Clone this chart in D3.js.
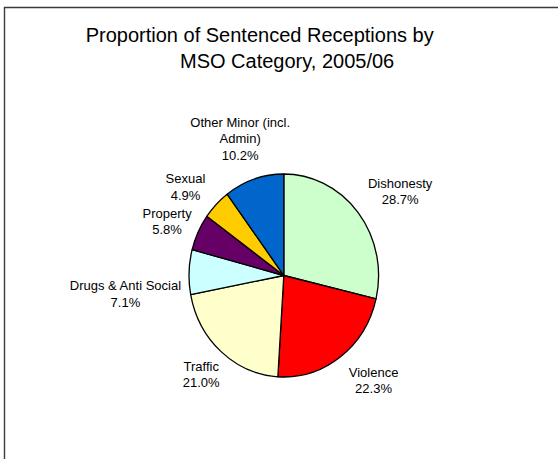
<!DOCTYPE html>
<html>
<head>
<meta charset="utf-8">
<script src="https://cdn.jsdelivr.net/npm/d3@7"></script>
<style>
  html, body { margin: 0; padding: 0; background: #fff; }
  svg { display: block; }
  text { font-family: "Liberation Sans", Arial, sans-serif; fill: #000; }
</style>
</head>
<body>
<svg id="chart" width="558" height="459"></svg>
<script>
// ---- data ----
const categories = ["Dishonesty", "Violence", "Traffic", "Drugs & Anti Social", "Property", "Sexual", "Other Minor (incl. Admin)"];
const values = [28.7, 22.3, 21.0, 7.1, 5.8, 4.9, 10.2];
const labelLines = [["Dishonesty"], ["Violence"], ["Traffic"], ["Drugs & Anti Social"], ["Property"], ["Sexual"], ["Other Minor (incl.", "Admin)"]];
const colors = ["#CCFFCC", "#FF0000", "#FFFFCC", "#CCFFFF", "#660066", "#FFCC00", "#0066CC"];
const titleLines = ["Proportion of Sentenced Receptions by", "MSO Category, 2005/06"];

// ---- layout ----
const W = 558, H = 459;
const cx = 283.8, cy = 275.5, ry = 101.5, rx = 94.8;
const labelGap = 16, lineH = 16.5, labelFont = 13;
// small manual nudges emulating the original label collision layout
const labelNudge = [[4, 0], [9, -2], [3, -1], [8, 24], [6, 4], [-5, 6], [7, -1]];

const svg = d3.select("#chart");

// frame
svg.append("path")
  .attr("d", `M4.5,${H} V7.5 H${W}`)
  .attr("fill", "none")
  .attr("stroke", "#3a3a3a")
  .attr("stroke-width", 1.4);

// title
const title = svg.append("text").style("font-size", "20px");
title.append("tspan").attr("x", 85.7).attr("y", 42).text(titleLines[0]);
title.append("tspan").attr("x", 180).attr("y", 68).text(titleLines[1]);

// pie
const data = categories.map((c, i) => ({ cat: c, value: values[i], color: colors[i], lines: labelLines[i], i }));
const pie = d3.pie().sort(null).value(d => d.value).startAngle(0).endAngle(2 * Math.PI);
const arcs = pie(data);
const arc = d3.arc().innerRadius(0).outerRadius(ry);

const pg = svg.append("g").attr("transform", `translate(${cx},${cy}) scale(${rx / ry},1)`);
pg.selectAll("path.slice")
  .data(arcs)
  .enter().append("path")
  .attr("class", "slice")
  .attr("d", arc)
  .attr("fill", d => d.data.color)
  .attr("stroke", "#000")
  .attr("stroke-width", 1.3)
  .attr("vector-effect", "non-scaling-stroke")
  .attr("stroke-linejoin", "round");

// labels
const lg = svg.append("g");
arcs.forEach(a => {
  const mid = (a.startAngle + a.endAngle) / 2;
  const s = Math.sin(mid), c = Math.cos(mid);
  const lines = a.data.lines.concat([a.data.value.toFixed(1) + "%"]);
  const t = lg.append("text").attr("text-anchor", "middle").style("font-size", labelFont + "px");
  lines.forEach((ln, k) => t.append("tspan").attr("x", 0).attr("y", k * lineH).text(ln));
  // measure block
  const bb = t.node().getBBox();
  const hw = bb.width / 2, hh = (lines.length * lineH) / 2;
  const px = cx + (rx + labelGap) * s, py = cy - (ry + labelGap) * c;
  const n = labelNudge[a.data.i];
  const bx = px + s * hw + n[0];
  const by = py - c * hh + n[1];
  // by = block centre; first baseline: top + ascent
  const top = by - hh;
  t.attr("transform", `translate(${bx},${top + 12})`);
});
</script>
</body>
</html>
